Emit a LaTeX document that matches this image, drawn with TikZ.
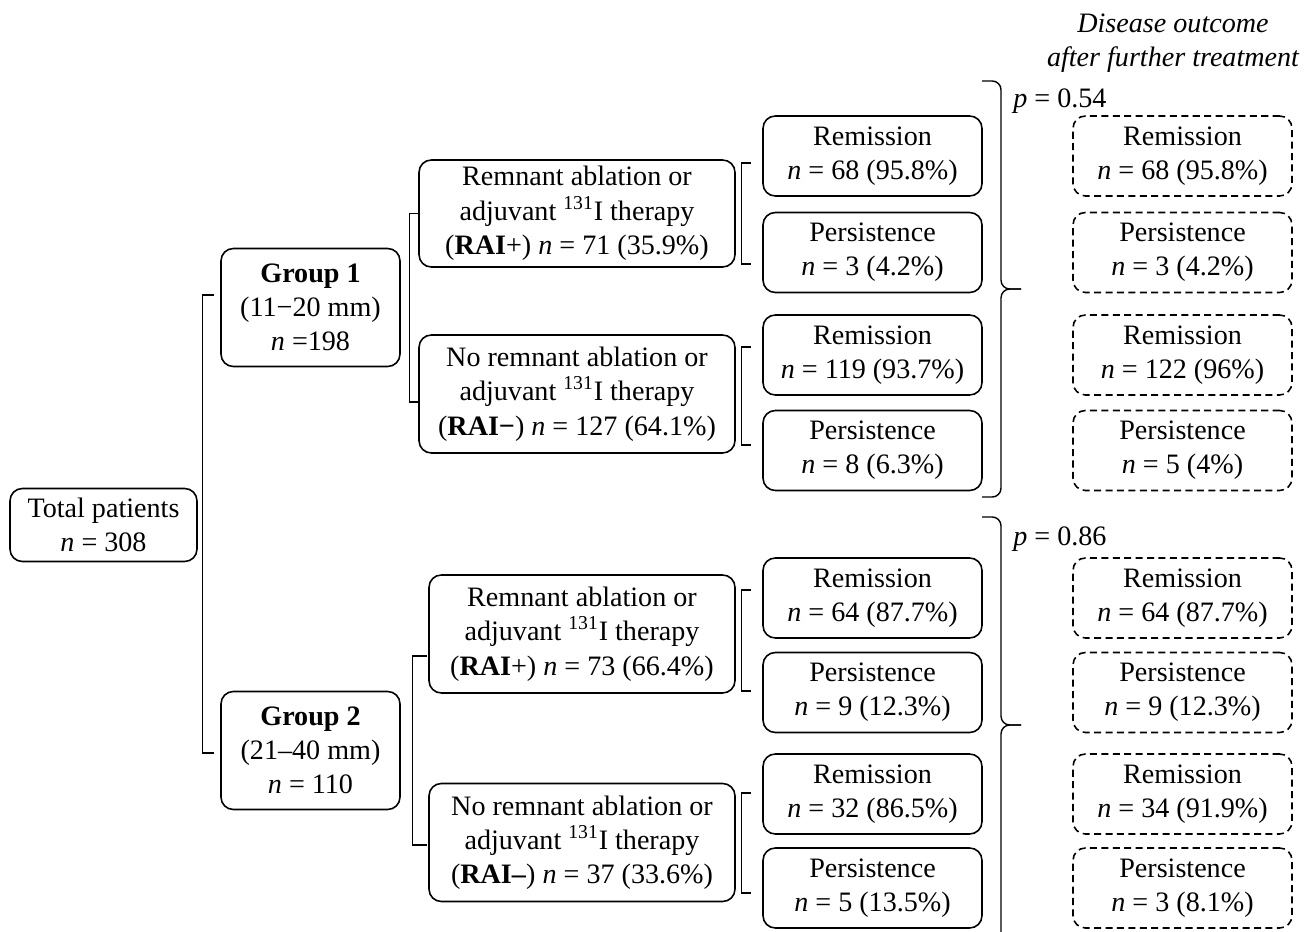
\documentclass[tikz,border=0pt]{standalone}
\usepackage{fontspec}
\setmainfont{Liberation Serif}
\usetikzlibrary{calc}

\tikzset{
  box/.style={draw, line width=0.9pt, rounded corners=7pt, align=center, inner sep=0pt},
  grpbox/.style={box, minimum width=3.58cm, minimum height=2.36cm},
  raibox/.style={box, minimum height=2.36cm},
  outbox/.style={box, minimum width=4.38cm, minimum height=1.6cm},
  furtherbox/.style={outbox, dash pattern=on 4pt off 2.5pt},
  brk/.style={line width=0.8pt},
}

\begin{document}
\fontsize{16}{19.5}\selectfont
\begin{tikzpicture}[x=0.02cm,y=-0.02cm]

\useasboundingbox (0,0) rectangle (1315,932);

\node[font=\itshape, align=center] (title) at (1173,43) {Disease outcome\\after further treatment};

\node[box, minimum width=3.74cm, minimum height=1.46cm] (total) at (103.5,525) {Total patients\\\textit{n} = 308};

\node[grpbox] (g1) at (310.5,307.5) {\textbf{Group 1}\\(11−20 mm)\\\textit{n} =198};
\node[grpbox] (g2) at (310.5,750.5) {\textbf{Group 2}\\(21–40 mm)\\\textit{n} = 110};

\node[raibox, minimum width=6.32cm, minimum height=2.14cm] (rai1p) at (577,213.5) {Remnant ablation or\\adjuvant \textsuperscript{131}I therapy\\(\textbf{RAI}+) \textit{n} = 71 (35.9\%)};
\node[raibox, minimum width=6.32cm] (rai1m) at (577,394) {No remnant ablation or\\adjuvant \textsuperscript{131}I therapy\\(\textbf{RAI−}) \textit{n} = 127 (64.1\%)};
\node[raibox, minimum width=6.12cm] (rai2p) at (582,634) {Remnant ablation or\\adjuvant \textsuperscript{131}I therapy\\(\textbf{RAI}+) \textit{n} = 73 (66.4\%)};
\node[raibox, minimum width=6.12cm] (rai2m) at (582,842.5) {No remnant ablation or\\adjuvant \textsuperscript{131}I therapy\\(\textbf{RAI–}) \textit{n} = 37 (33.6\%)};

% outcome after RAI / no RAI
\node[outbox] (rem1) at (872.5,156) {Remission\\\textit{n} = 68 (95.8\%)};
\node[outbox] (per1) at (872.5,252.5) {Persistence\\\textit{n} = 3 (4.2\%)};
\node[outbox] (rem2) at (872.5,355) {Remission\\\textit{n} = 119 (93.7\%)};
\node[outbox] (per2) at (872.5,450.5) {Persistence\\\textit{n} = 8 (6.3\%)};
\node[outbox] (rem3) at (872.5,598) {Remission\\\textit{n} = 64 (87.7\%)};
\node[outbox] (per3) at (872.5,692.5) {Persistence\\\textit{n} = 9 (12.3\%)};
\node[outbox] (rem4) at (872.5,794) {Remission\\\textit{n} = 32 (86.5\%)};
\node[outbox] (per4) at (872.5,888) {Persistence\\\textit{n} = 5 (13.5\%)};

% outcome after further treatment
\node[furtherbox] (frem1) at (1182.5,156) {Remission\\\textit{n} = 68 (95.8\%)};
\node[furtherbox] (fper1) at (1182.5,252.5) {Persistence\\\textit{n} = 3 (4.2\%)};
\node[furtherbox] (frem2) at (1182.5,355) {Remission\\\textit{n} = 122 (96\%)};
\node[furtherbox] (fper2) at (1182.5,450.5) {Persistence\\\textit{n} = 5 (4\%)};
\node[furtherbox] (frem3) at (1182.5,598) {Remission\\\textit{n} = 64 (87.7\%)};
\node[furtherbox] (fper3) at (1182.5,692.5) {Persistence\\\textit{n} = 9 (12.3\%)};
\node[furtherbox] (frem4) at (1182.5,794) {Remission\\\textit{n} = 34 (91.9\%)};
\node[furtherbox] (fper4) at (1182.5,888) {Persistence\\\textit{n} = 3 (8.1\%)};

\draw[brk] ($(g1.west)+(-6.5,-12.5)$) -- ++(-11,0) |- ($(g2.west)+(-6.5,2.5)$);
\draw[brk] (rai1p.west) -- ++(-9,0) |- ($(rai1m.west)+(0,8)$);
\draw[brk] ($(rai2p.west)+(-1,22)$) -- ++(-15,0) |- ($(rai2m.west)+(-1,2.5)$);

\draw[brk] ($(rem1.west)+(-11,7)$) -- ++(-10,0) |- ($(per1.west)+(-11,11.5)$);
\draw[brk] ($(rem2.west)+(-11,-8)$) -- ++(-10,0) |- ($(per2.west)+(-11,-5.5)$);
\draw[brk] ($(rem3.west)+(-11,-8)$) -- ++(-10,0) |- ($(per3.west)+(-11,-1.5)$);
\draw[brk] ($(rem4.west)+(-11,-1)$) -- ++(-10,0) |- ($(per4.west)+(-11,5)$);

% braces
\draw[brk, rounded corners=5pt] (982,81) -- (1001,81) -- (1001,289) -- (1021,289);
\draw[brk, rounded corners=5pt] (1021,289) -- (1001,289) -- (1001,497) -- (982,497);
\draw[brk, rounded corners=5pt] (982,517) -- (1001,517) -- (1001,725) -- (1021,725);
\draw[brk, rounded corners=5pt] (1021,725) -- (1001,725) -- (1001,950) -- (982,950);

\node[anchor=west, inner sep=0pt] (pg1) at (1013,101) {\textit{p} = 0.54};
\node[anchor=west, inner sep=0pt] (pg2) at (1013,539) {\textit{p} = 0.86};

\end{tikzpicture}
\end{document}
